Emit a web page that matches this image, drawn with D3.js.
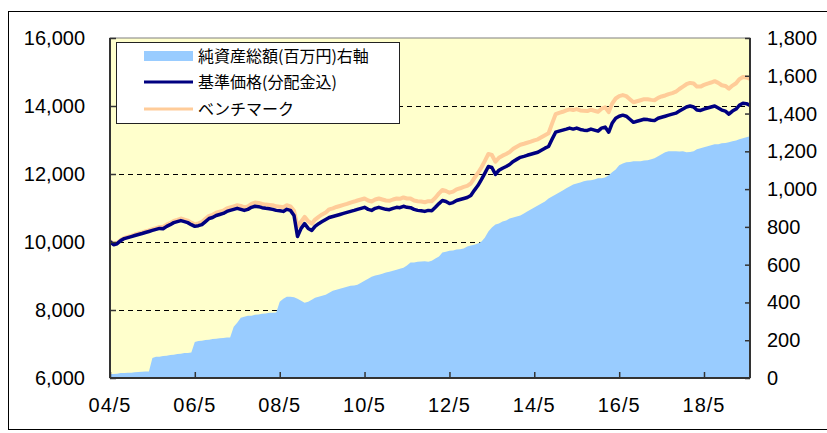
<!DOCTYPE html>
<html>
<head>
<meta charset="utf-8">
<script src="https://cdn.jsdelivr.net/npm/d3@7"></script>
<style>
  body { margin: 0; background: #fff; }
  svg text { font-family: "Liberation Sans", Arial, sans-serif; }
  .legend text { font-family: "Noto Sans CJK JP", sans-serif; }
</style>
</head>
<body>
<svg id="chart" width="827" height="433"></svg>
<script>
// monthly series, 2004/5 .. 2019/6
var months = d3.timeMonth.range(new Date(2004, 4, 1), new Date(2019, 6, 1));

// 基準価格(分配金込), left axis
var navValues = [
  10010, 9920, 9950, 10040, 10100, 10130, 10160, 10190, 10220, 10250, 10280, 10310,
  10340, 10370, 10400, 10390, 10460, 10510, 10570, 10600, 10630, 10600, 10570, 10510,
  10460, 10480, 10510, 10600, 10690, 10720, 10780, 10810, 10840, 10900, 10930, 10960,
  10990, 10960, 10930, 10960, 11020, 11050, 11040, 11010, 10990, 10980, 10960, 10930,
  10920, 10900, 10960, 10930, 10780, 10160, 10400, 10540, 10400, 10340, 10460, 10540,
  10600, 10660, 10720, 10750, 10780, 10810, 10840, 10870, 10900, 10930, 10960, 10990,
  11020, 10960, 10930, 10990, 11020, 10990, 10960, 10950, 10990, 11020, 11010, 11050,
  11020, 11010, 10960, 10930, 10920, 10900, 10930, 10920, 11020, 11130, 11220, 11190,
  11130, 11160, 11220, 11250, 11280, 11310, 11370, 11520, 11660, 11840, 12020, 12220,
  12190, 11990, 12110, 12170, 12220, 12280, 12370, 12430, 12490, 12520, 12550, 12580,
  12610, 12640, 12700, 12760, 12810, 13020, 13230, 13260, 13290, 13320, 13350, 13320,
  13350, 13310, 13290, 13280, 13320, 13290, 13260, 13350, 13380, 13230, 13490, 13640,
  13700, 13730, 13700, 13610, 13520, 13550, 13580, 13610, 13600, 13580, 13570, 13640,
  13670, 13700, 13730, 13760, 13790, 13850, 13910, 13970, 14000, 13970, 13880, 13870,
  13910, 13940, 13970, 14000, 13940, 13880, 13850, 13760, 13850, 13910, 14020, 14080,
  14070, 14020
];

// ベンチマーク, left axis
var benchValues = [
  10030, 9940, 9970, 10060, 10120, 10150, 10180, 10220, 10250, 10280, 10310, 10340,
  10380, 10410, 10440, 10440, 10510, 10560, 10620, 10650, 10690, 10660, 10630, 10570,
  10520, 10550, 10590, 10680, 10770, 10800, 10860, 10890, 10920, 10990, 11020, 11050,
  11080, 11060, 11020, 11050, 11120, 11160, 11150, 11120, 11100, 11090, 11080, 11050,
  11040, 11020, 11080, 11050, 10920, 10450, 10600, 10740, 10610, 10540, 10660, 10740,
  10810, 10870, 10960, 10990, 11030, 11060, 11090, 11120, 11160, 11190, 11220, 11250,
  11280, 11220, 11190, 11250, 11280, 11250, 11220, 11210, 11250, 11280, 11270, 11310,
  11280, 11280, 11220, 11200, 11190, 11170, 11200, 11200, 11300, 11430, 11530, 11500,
  11450, 11480, 11550, 11580, 11620, 11650, 11720, 11880, 12030, 12200, 12380, 12590,
  12560, 12360, 12480, 12540, 12590, 12650, 12740, 12800, 12860, 12890, 12920, 12950,
  12990, 13020, 13080, 13140, 13200, 13480, 13760, 13800, 13830, 13870, 13900, 13880,
  13910, 13870, 13860, 13850, 13890, 13860, 13830, 13920, 13960, 13820, 14070, 14220,
  14290, 14320, 14290, 14200, 14110, 14140, 14170, 14200, 14200, 14180, 14170, 14240,
  14280, 14310, 14350, 14380, 14420, 14500, 14570, 14640, 14680, 14660, 14570, 14570,
  14620, 14660, 14690, 14730, 14680, 14610, 14590, 14510, 14600, 14670, 14790, 14850,
  14840, 14800
];

// 純資産総額(百万円), right axis
var assetValues = [
  21, 21, 22, 26, 27, 28, 28, 31, 32, 33, 34, 35,
  106, 112, 113, 117, 118, 122, 123, 127, 128, 132, 133, 135,
  191, 196, 197, 201, 203, 206, 208, 211, 212, 214, 215, 271,
  292, 319, 324, 329, 330, 335, 336, 340, 341, 345, 346, 347,
  404, 419, 430, 430, 428, 419, 409, 398, 404, 414, 425, 430,
  435, 441, 451, 462, 467, 473, 478, 483, 489, 490, 494, 504,
  515, 526, 536, 542, 547, 552, 558, 563, 568, 573, 579, 584,
  595, 611, 612, 616, 617, 618, 616, 621, 632, 643, 664, 669,
  674, 675, 680, 681, 685, 696, 701, 706, 712, 722, 743, 775,
  797, 812, 818, 828, 834, 844, 850, 855, 860, 871, 881, 892,
  903, 913, 924, 935, 950, 961, 972, 982, 993, 1004, 1014, 1025,
  1030, 1035, 1041, 1046, 1047, 1051, 1057, 1058, 1062, 1073, 1089, 1104,
  1126, 1136, 1142, 1143, 1147, 1148, 1147, 1152, 1153, 1158, 1163, 1174,
  1184, 1195, 1200, 1201, 1200, 1199, 1201, 1195, 1196, 1200, 1211, 1216,
  1221, 1227, 1232, 1237, 1238, 1243, 1244, 1248, 1253, 1258, 1264, 1269,
  1274, 1280
];

var leftTicks = [6000, 8000, 10000, 12000, 14000, 16000];
var gridTicks = [8000, 10000, 12000, 14000];
var rightTicks = [0, 200, 400, 600, 800, 1000, 1200, 1400, 1600, 1800];
var xTicks = d3.range(2004, 2019, 2).map(function (y) { return new Date(y, 4, 1); });
var legendItems = ["純資産総額(百万円)右軸", "基準価格(分配金込)", "ベンチマーク"];

var areaColor = "#99CCFF",
    navColor = "#000080",
    benchColor = "#FFCC99";

var svg = d3.select("#chart");
var plot = { left: 110, top: 38, right: 750, bottom: 378 };

//outer frame
svg.append("rect")
    .attr("x", 8.5).attr("y", 11.5)
    .attr("width", 830).attr("height", 418)
    .attr("fill", "#fff").attr("stroke", "#000");

var x = d3.scaleTime()
  .domain([months[0], months[months.length - 1]])
  .range([plot.left, plot.right]);
var yLeft = d3.scaleLinear().domain([6000, 16000]).range([plot.bottom, plot.top]);
var yRight = d3.scaleLinear().domain([0, 1800]).range([plot.bottom, plot.top]);

//plot background
svg.append("rect")
    .attr("x", plot.left).attr("y", plot.top)
    .attr("width", plot.right - plot.left).attr("height", plot.bottom - plot.top)
    .attr("fill", "#FFFFCC").attr("stroke", "#808080");

//dashed grid lines
svg.append("g").selectAll("line")
  .data(gridTicks)
  .enter().append("line")
    .attr("x1", plot.left).attr("x2", plot.right)
    .attr("y1", function (d) { return Math.round(yLeft(d)) + 0.5; })
    .attr("y2", function (d) { return Math.round(yLeft(d)) + 0.5; })
    .attr("stroke", "#000")
    .attr("stroke-dasharray", "5,4");

//net assets area
var area = d3.area()
  .x(function (d, i) { return x(months[i]); })
  .y0(yRight(0))
  .y1(function (d) { return yRight(d); });

svg.append("path")
    .datum(assetValues)
    .attr("d", area)
    .attr("fill", areaColor);

//lines
var line = d3.line()
  .x(function (d, i) { return x(months[i]); })
  .y(function (d) { return yLeft(d); });

svg.append("path")
    .datum(benchValues)
    .attr("d", line)
    .attr("fill", "none")
    .attr("stroke", benchColor)
    .attr("stroke-width", 4)
    .attr("stroke-linejoin", "round");

svg.append("path")
    .datum(navValues)
    .attr("d", line)
    .attr("fill", "none")
    .attr("stroke", navColor)
    .attr("stroke-width", 3.5)
    .attr("stroke-linejoin", "round");

//axes
var leftAxis = svg.append("g")
    .attr("transform", "translate(" + plot.left + ",0)")
    .call(d3.axisRight(yLeft).tickValues(leftTicks).tickSize(6).tickFormat(""));
var rightAxis = svg.append("g")
    .attr("transform", "translate(" + plot.right + ",0)")
    .call(d3.axisLeft(yRight).tickValues(rightTicks).tickSize(5).tickFormat(""));
var bottomAxis = svg.append("g")
    .attr("transform", "translate(0," + plot.bottom + ")")
    .call(d3.axisTop(x).tickValues(xTicks).tickSize(6).tickFormat(""));

[leftAxis, rightAxis, bottomAxis].forEach(function (g) {
  g.select(".domain").attr("stroke", "#333").attr("stroke-width", 2);
  g.selectAll(".tick line").attr("stroke", "#333").attr("stroke-width", 1.5);
});
leftAxis.select(".domain").attr("d", "M0," + plot.top + "V" + plot.bottom);
rightAxis.select(".domain").attr("d", "M0," + plot.top + "V" + plot.bottom);
bottomAxis.select(".domain").attr("d", "M" + plot.left + ",0H" + plot.right);

//tick labels
var fmt = d3.format(",");
svg.append("g").selectAll("text")
  .data(leftTicks)
  .enter().append("text")
    .attr("x", 85)
    .attr("y", function (d) { return yLeft(d); })
    .attr("dy", "0.35em")
    .attr("text-anchor", "end")
    .attr("font-size", 20)
    .text(fmt);

svg.append("g").selectAll("text")
  .data(rightTicks)
  .enter().append("text")
    .attr("x", 767)
    .attr("y", function (d) { return yRight(d); })
    .attr("dy", "0.35em")
    .attr("font-size", 20)
    .text(fmt);

svg.append("g").selectAll("text")
  .data(xTicks)
  .enter().append("text")
    .attr("x", function (d) { return x(d); })
    .attr("y", 412)
    .attr("text-anchor", "middle")
    .attr("font-size", 20)
    .attr("letter-spacing", 1)
    .text(d3.timeFormat("%y/%-m"));

//legend
var legend = svg.append("g").attr("class", "legend");
legend.append("rect")
    .attr("x", 116.5).attr("y", 42.5)
    .attr("width", 283).attr("height", 81)
    .attr("fill", "#fff").attr("stroke", "#222");

var rowY = [56, 82, 109];
legendItems.forEach(function (label, i) {
  if (i == 0) {
    legend.append("rect")
        .attr("x", 144).attr("y", rowY[i] - 5)
        .attr("width", 49).attr("height", 10)
        .attr("fill", areaColor);
  } else {
    legend.append("line")
        .attr("x1", 144).attr("x2", 193)
        .attr("y1", rowY[i]).attr("y2", rowY[i])
        .attr("stroke", i == 1 ? navColor : benchColor)
        .attr("stroke-width", 3);
  }
  legend.append("text")
      .attr("x", 198)
      .attr("y", rowY[i])
      .attr("dy", "0.36em")
      .attr("font-size", 16)
      .text(label);
});
</script>
</body>
</html>
